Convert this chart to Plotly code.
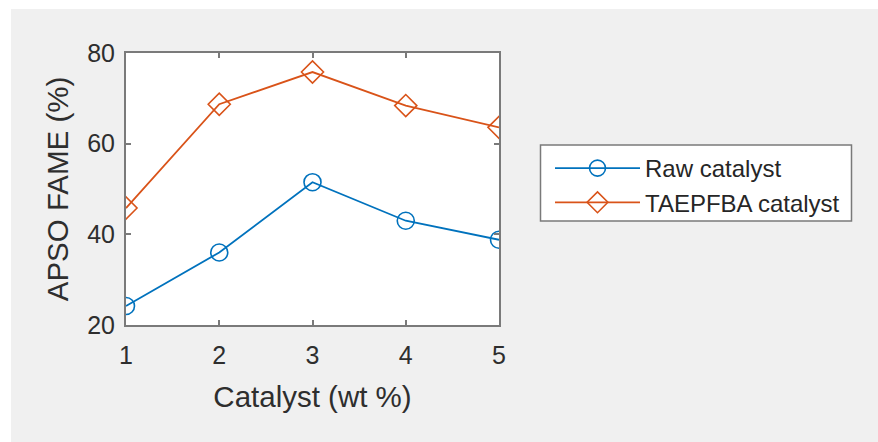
import plotly.graph_objects as go

catalyst = [1, 2, 3, 4, 5]
raw_catalyst = [24.2, 36.0, 51.5, 43.0, 38.8]
taepfba_catalyst = [45.8, 68.7, 75.8, 68.4, 63.6]
series_names = ["Raw catalyst", "TAEPFBA catalyst"]
x_ticks = [1, 2, 3, 4, 5]
y_ticks = [20, 40, 60, 80]

W, H = 878, 442
ML, MR, MT, MB = 126, 379, 53, 117
PW, PH = W - ML - MR, H - MT - MB

def px_x(px):
    return (px - ML) / PW

def px_y(py):
    return (H - MB - py) / PH

FONT = "Liberation Sans, Arial, Helvetica, sans-serif"
AX = "#7a7a7a"
TXT = "#2e2e2e"

fig = go.Figure()
fig.add_trace(go.Scatter(
    x=catalyst, y=raw_catalyst, name=series_names[0], mode="lines+markers",
    line=dict(color="#0072BD", width=1.8),
    marker=dict(symbol="circle-open", size=17, color="#0072BD", line=dict(width=1.6, color="#0072BD")),
))
fig.add_trace(go.Scatter(
    x=catalyst, y=taepfba_catalyst, name=series_names[1], mode="lines+markers",
    line=dict(color="#D95319", width=1.8),
    marker=dict(symbol="diamond-open", size=17, color="#D95319", line=dict(width=1.6, color="#D95319")),
))

shapes = [
    dict(type="rect", xref="paper", yref="paper", layer="below",
         x0=px_x(11), x1=px_x(878), y0=px_y(442), y1=px_y(9),
         fillcolor="#f0f0f0", line=dict(width=0)),
    dict(type="rect", xref="paper", yref="paper", layer="below",
         x0=0, x1=1, y0=0, y1=1, fillcolor="white", line=dict(width=0)),
    # legend box
    dict(type="rect", xref="paper", yref="paper", layer="below",
         x0=px_x(540.5), x1=px_x(851.5), y0=px_y(221), y1=px_y(145),
         fillcolor="white", line=dict(width=1.5, color=AX)),
]

axis_common = dict(
    showline=True, linecolor=AX, linewidth=2, mirror="ticks",
    ticks="inside", ticklen=5, tickwidth=1.5, tickcolor=AX,
    showgrid=False, zeroline=False,
    tickfont=dict(family=FONT, size=25, color=TXT),
)

fig.update_layout(
    width=W, height=H,
    margin=dict(l=ML, r=MR, t=MT, b=MB),
    paper_bgcolor="white", plot_bgcolor="white",
    shapes=shapes,
    xaxis=dict(range=[1, 5], tickvals=x_ticks, ticktext=[str(v) for v in x_ticks],
               ticklabelstandoff=7,
               title=dict(text="Catalyst (wt %)", font=dict(family=FONT, size=29.5, color=TXT), standoff=18),
               **axis_common),
    yaxis=dict(range=[20, 80], tickvals=y_ticks, ticktext=[str(v) for v in y_ticks],
               ticklabelstandoff=4,
               title=dict(text="APSO FAME (%)", font=dict(family=FONT, size=29.5, color=TXT), standoff=10),
               **axis_common),
    legend=dict(x=px_x(550), y=px_y(146), xanchor="left", yanchor="top",
                bgcolor="rgba(0,0,0,0)", borderwidth=0,
                font=dict(family=FONT, size=24, color="#262626"),
                itemwidth=85, tracegroupgap=0),
    showlegend=True,
)

fig.write_html("out.html")
